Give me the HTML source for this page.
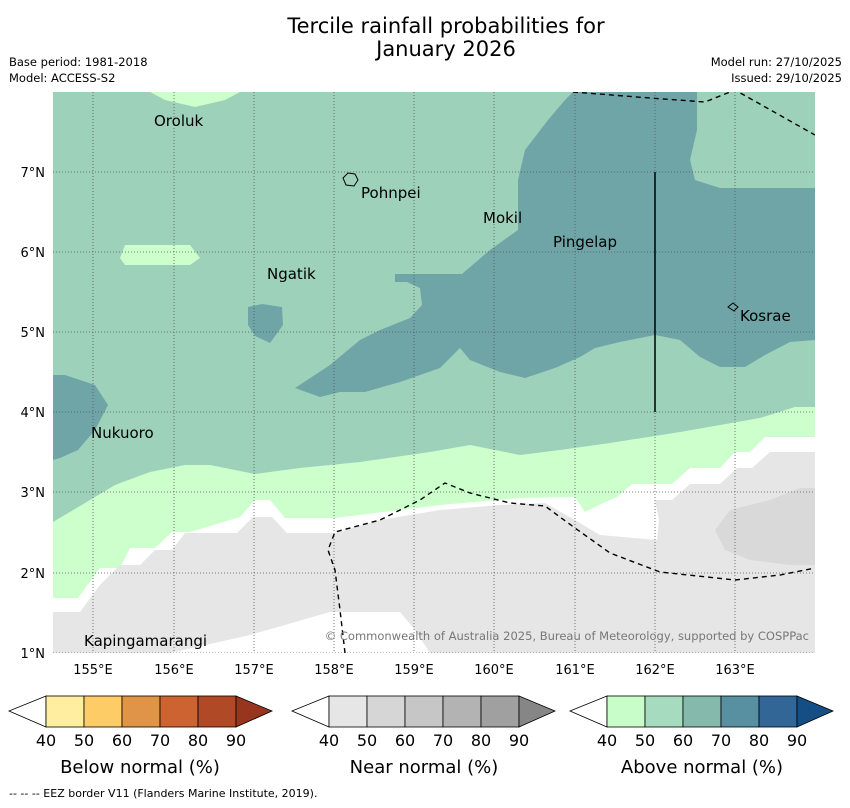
<!DOCTYPE html>
<html><head><meta charset="utf-8"><style>
body{margin:0;background:#fff;font-family:"DejaVu Sans","Liberation Sans",sans-serif}
svg text{font-family:"DejaVu Sans","Liberation Sans",sans-serif}
</style></head><body>
<svg width="850" height="804" viewBox="0 0 850 804">
<text x="446" y="33" font-size="21" text-anchor="middle">Tercile rainfall probabilities for</text>
<text x="446" y="56" font-size="21" text-anchor="middle">January 2026</text>
<text x="9" y="66" font-size="11.5">Base period: 1981-2018</text>
<text x="9" y="82" font-size="11.5">Model: ACCESS-S2</text>
<text x="842" y="66" font-size="11.5" text-anchor="end">Model run: 27/10/2025</text>
<text x="842" y="82" font-size="11.5" text-anchor="end">Issued: 29/10/2025</text>
<defs><clipPath id="mc"><rect x="53" y="92" width="762" height="561"/></clipPath></defs>
<g clip-path="url(#mc)">
<rect x="53" y="92" width="762" height="561" fill="#9dd1b9"/>
<polygon fill="#6fa5a7" points="573,92 697,92 697,130 690,160 695,180 720,188 815,188 815,340 790,342 765,355 745,367 720,367 700,357 680,340 655,335 620,342 595,348 580,357 555,368 525,378 500,372 470,360 460,348 440,368 400,382 365,392 340,392 320,397 295,388 330,365 360,340 380,330 410,318 422,305 420,288 407,282 395,282 395,274 462,274 490,250 518,230 518,180 525,150 548,120 565,100"/>
<polygon fill="#6fa5a7" points="53,375 65,375 95,385 108,405 95,430 78,450 60,458 53,460"/>
<polygon fill="#6fa5a7" points="248,307 262,304 282,307 283,325 270,343 255,336 248,325"/>
<polygon fill="#ccffcc" points="150,92 240,92 225,100 195,107 165,100"/>
<polygon fill="#ccffcc" points="125,245 190,245 200,258 190,265 125,265 120,258"/>
<polygon fill="#ccffcc" points="53,522 90,500 115,485 150,472 185,465 210,465 255,474 300,468 360,462 430,452 470,445 520,455 560,450 610,443 680,432 760,418 795,407 815,407 815,653 53,653"/>
<polygon fill="#ffffff" points="53,598 78,598 100,568 120,568 130,548 155,548 172,532 190,532 240,517 255,500 270,500 285,518 335,518 440,505 520,498 575,497 585,512 603,503 617,497 632,484 672,484 690,468 720,468 735,452 750,452 765,437 815,437 815,653 53,653"/>
<polygon fill="#e6e6e6" points="53,612 80,612 100,585 120,565 140,565 155,550 172,550 185,533 237,533 253,517 272,517 287,533 335,533 380,520 440,510 500,505 545,503 575,520 600,535 657,540 659,520 655,500 672,500 690,484 720,484 737,468 752,468 770,452 815,452 815,653 53,653"/>
<polygon fill="#d9d9d9" points="715,530 730,510 770,500 800,488 815,488 815,565 790,565 750,560 725,550"/>
<polygon fill="#ffffff" points="170,653 250,635 330,612 400,612 415,630 430,653"/>
<g stroke="#555" stroke-width="0.8" stroke-dasharray="1,2" fill="none">
<line x1="93" y1="92" x2="93" y2="653"/><line x1="174" y1="92" x2="174" y2="653"/><line x1="254" y1="92" x2="254" y2="653"/><line x1="334" y1="92" x2="334" y2="653"/><line x1="414" y1="92" x2="414" y2="653"/><line x1="494" y1="92" x2="494" y2="653"/><line x1="575" y1="92" x2="575" y2="653"/><line x1="655" y1="92" x2="655" y2="653"/><line x1="735" y1="92" x2="735" y2="653"/>
<line x1="53" y1="172" x2="815" y2="172"/><line x1="53" y1="252" x2="815" y2="252"/><line x1="53" y1="332" x2="815" y2="332"/><line x1="53" y1="412" x2="815" y2="412"/><line x1="53" y1="492" x2="815" y2="492"/><line x1="53" y1="573" x2="815" y2="573"/><line x1="53" y1="653" x2="815" y2="653"/>
</g>
<g stroke="#000" stroke-width="1.4" stroke-dasharray="5,4" fill="none">
<polyline points="573,92 650,98 705,102 735,90 815,135"/>
<polyline points="345,653 340,610 335,570 328,550 335,532 380,520 420,500 445,483 470,493 510,503 545,506 575,528 610,553 660,572 735,580 780,575 815,568"/>
</g>
<line x1="655" y1="172" x2="655" y2="412" stroke="#000" stroke-width="1.5"/>
<path d="M343,178 l5,-5 l7,1 l3,6 l-4,6 l-8,-1z" fill="none" stroke="#000"/>
<path d="M728,307 l5,-4 l5,4 l-4,4z" fill="none" stroke="#000"/>
<g font-size="15" fill="#000">
<text x="154" y="126">Oroluk</text><text x="361" y="198">Pohnpei</text><text x="483" y="223">Mokil</text><text x="553" y="247">Pingelap</text><text x="267" y="279">Ngatik</text><text x="740" y="321">Kosrae</text><text x="91" y="438">Nukuoro</text><text x="84" y="646">Kapingamarangi</text>
</g>
<text x="809" y="640" font-size="11.5" fill="#777" text-anchor="end">© Commonwealth of Australia 2025, Bureau of Meteorology, supported by COSPPac</text>
</g>
<g font-size="13" text-anchor="middle">
<text x="93" y="674">155°E</text><text x="174" y="674">156°E</text><text x="254" y="674">157°E</text><text x="334" y="674">158°E</text><text x="414" y="674">159°E</text><text x="494" y="674">160°E</text><text x="575" y="674">161°E</text><text x="655" y="674">162°E</text><text x="735" y="674">163°E</text>
</g>
<g font-size="13" text-anchor="end">
<text x="45" y="177">7°N</text><text x="45" y="257">6°N</text><text x="45" y="337">5°N</text><text x="45" y="417">4°N</text><text x="45" y="497">3°N</text><text x="45" y="578">2°N</text><text x="45" y="658">1°N</text>
</g>
<g stroke="#000" stroke-width="0.8">
<polygon points="46,696 9,711 46,727" fill="#fff"/>
<rect x="46" y="696" width="38" height="31" fill="#ffeda0"/><rect x="84" y="696" width="38" height="31" fill="#fecc66"/><rect x="122" y="696" width="38" height="31" fill="#e09448"/><rect x="160" y="696" width="38" height="31" fill="#cd6331"/><rect x="198" y="696" width="38" height="31" fill="#b04a26"/>
<polygon points="236,696 272,711 236,727" fill="#98351e"/>
</g>
<g stroke="#000" stroke-width="0.8">
<polygon points="329,696 292,711 329,727" fill="#fff"/>
<rect x="329" y="696" width="38" height="31" fill="#e6e6e6"/><rect x="367" y="696" width="38" height="31" fill="#d6d6d6"/><rect x="405" y="696" width="38" height="31" fill="#c6c6c6"/><rect x="443" y="696" width="38" height="31" fill="#b3b3b3"/><rect x="481" y="696" width="38" height="31" fill="#a0a0a0"/>
<polygon points="519,696 555,711 519,727" fill="#868686"/>
</g>
<g stroke="#000" stroke-width="0.8">
<polygon points="607,696 570,711 607,727" fill="#fff"/>
<rect x="607" y="696" width="38" height="31" fill="#c8fcc8"/><rect x="645" y="696" width="38" height="31" fill="#a6dbbf"/><rect x="683" y="696" width="38" height="31" fill="#85b9ab"/><rect x="721" y="696" width="38" height="31" fill="#5890a2"/><rect x="759" y="696" width="38" height="31" fill="#326696"/>
<polygon points="797,696 833,711 797,727" fill="#154e85"/>
</g>
<g font-size="16" text-anchor="middle">
<text x="46" y="746">40</text><text x="84" y="746">50</text><text x="122" y="746">60</text><text x="160" y="746">70</text><text x="198" y="746">80</text><text x="236" y="746">90</text>
<text x="329" y="746">40</text><text x="367" y="746">50</text><text x="405" y="746">60</text><text x="443" y="746">70</text><text x="481" y="746">80</text><text x="519" y="746">90</text>
<text x="607" y="746">40</text><text x="645" y="746">50</text><text x="683" y="746">60</text><text x="721" y="746">70</text><text x="759" y="746">80</text><text x="797" y="746">90</text>
</g>
<g font-size="18" text-anchor="middle">
<text x="140" y="773">Below normal (%)</text><text x="424" y="773">Near normal (%)</text><text x="702" y="773">Above normal (%)</text>
</g>
<text x="9" y="797" font-size="11">--  --  -- EEZ border V11 (Flanders Marine Institute, 2019).</text>
</svg>
</body></html>
